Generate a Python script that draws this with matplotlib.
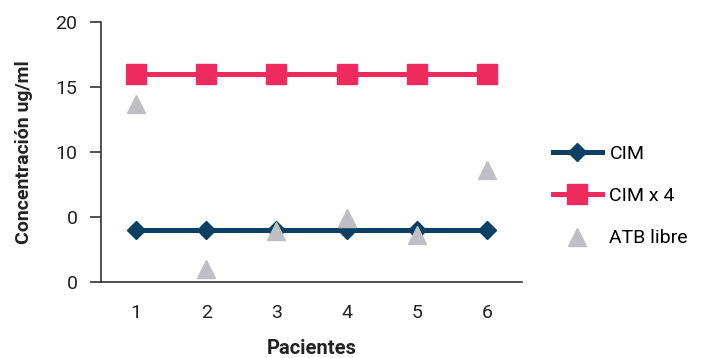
import matplotlib.pyplot as plt

plt.rcParams['font.family'] = ['Roboto', 'DejaVu Sans']

pacientes = [1, 2, 3, 4, 5, 6]
cim = [4, 4, 4, 4, 4, 4]
cim_x4 = [16, 16, 16, 16, 16, 16]
atb_libre = [13.7, 1.0, 3.9, 4.9, 3.6, 8.6]
y_ticks = [0, 5, 10, 15, 20]
y_tick_labels = ['0', '0', '10', '15', '20']

fig = plt.figure(figsize=(7.01, 3.58), dpi=100)
ax = fig.add_axes([101 / 701, 1 - 282 / 358, 421 / 701, 260 / 358])

ax.plot(pacientes, cim, color='#0b3f63', lw=3.6, marker='D', ms=8.8,
        label='CIM', zorder=3)
ax.plot(pacientes, cim_x4, color='#ef2a5e', lw=3.6, marker='s', ms=13.9,
        label='CIM x 4', zorder=3)
ax.plot(pacientes, atb_libre, ls='none', color='#bfbfc3', marker='^',
        ms=12.5, label='ATB libre', zorder=4)

ax.set_xlim(0.5, 6.5)
ax.set_ylim(0, 20)
ax.set_xticks(pacientes)
ax.set_yticks(y_ticks)
ax.set_yticklabels(y_tick_labels)
ax.tick_params(axis='x', length=0, pad=16, labelsize=14, labelcolor='#222222')
ax.tick_params(axis='y', length=8, width=1.2, color='#333333', pad=9,
               labelsize=14, labelcolor='#222222')

for side in ('top', 'right'):
    ax.spines[side].set_visible(False)
for side in ('left', 'bottom'):
    ax.spines[side].set_color('#333333')
    ax.spines[side].set_linewidth(1.2)

ax.set_xlabel('Pacientes', fontsize=14.5, fontweight='bold', color='#222222',
              labelpad=12)
ax.set_ylabel('Concentración ug/ml', fontsize=14, fontweight='bold',
              color='#222222', labelpad=16)

fig.legend(loc='center left', bbox_to_anchor=(553 / 701, 1 - 196 / 358),
           frameon=False, fontsize=14, handlelength=2.5, handletextpad=0.4,
           labelspacing=1.25, borderpad=0, borderaxespad=0)

fig.savefig('out.png', dpi=100)
